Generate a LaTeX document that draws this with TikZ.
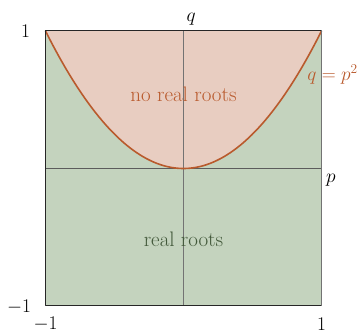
\documentclass[tikz,border=0pt]{standalone}
\usepackage{tikz}

\definecolor{norootfill}{RGB}{232,205,193}
\definecolor{rootfill}{RGB}{196,211,190}
\definecolor{curvecol}{RGB}{185,90,45}
\definecolor{rootstext}{RGB}{66,88,58}
\definecolor{axiscol}{RGB}{115,115,115}

\begin{document}
\begin{tikzpicture}[x=1pt, y=-1pt, line join=round,
    ticklabel/.style={inner sep=0pt, scale=1.12, font=\fontsize{17.28}{21}\selectfont},
    regionlabel/.style={inner sep=0pt, font=\fontsize{21}{25}\selectfont}]

  %% ==== canvas ====
  \path[use as bounding box] (0,0) rectangle (358,334);

  %% ==== regions ====
  \coordinate (tl) at (45.5,30.5);
  \coordinate (tr) at (321.5,30.5);
  \coordinate (bl) at (45.5,305.5);
  \coordinate (br) at (321.5,305.5);
  \fill[rootfill] (tl) rectangle (br);
  \fill[norootfill] (tl) -- plot[domain=-1:1, samples=80] ({183.5+138*\x},{168.5-137.5*\x*\x}) -- (tr) -- cycle;

  %% ==== axes ====
  \coordinate (origin) at (183.5,168.5);
  \coordinate (ptop) at (183.5,30.5);
  \coordinate (pbot) at (183.5,305.5);
  \coordinate (qleft) at (45.5,168.5);
  \coordinate (qright) at (321.5,168.5);
  \draw[axiscol, line width=0.9pt] (ptop) -- (pbot);
  \draw[axiscol!80!black, line width=0.9pt] (qleft) -- (qright);

  %% ==== parabola q = p^2 ====
  \draw[curvecol, line width=1.6pt, line cap=round]
    plot[domain=-1:1, samples=80] ({183.5+138*\x},{168.5-137.5*\x*\x});

  %% ==== frame ====
  \draw[black!85, line width=1pt] (tr) -- (tl) -- (bl) -- (br);
  \draw[axiscol, line width=1.4pt] (br) -- (tr);

  %% ==== labels ====
  \node[ticklabel] (ytop) at (25.5,31) {$1$};
  \node[ticklabel] (ybot) at (19,307) {$-1$};
  \node[ticklabel] (xleft) at (45.5,324) {$-1$};
  \node[ticklabel] (xright) at (321.5,324) {$1$};
  \node[ticklabel, anchor=base west] (qlabel) at (186.5,22) {$q$};
  \node[ticklabel, anchor=base west] (plabel) at (326,182) {$p$};
  \node[ticklabel, anchor=base east, text=curvecol] (curvelabel) at (358,81) {$q = p^2$};

  \node[regionlabel, text=curvecol] (noroots) at (183.5,94) {no real roots};
  \node[regionlabel, text=rootstext] (roots) at (183.5,239) {real roots};
\end{tikzpicture}
\end{document}
